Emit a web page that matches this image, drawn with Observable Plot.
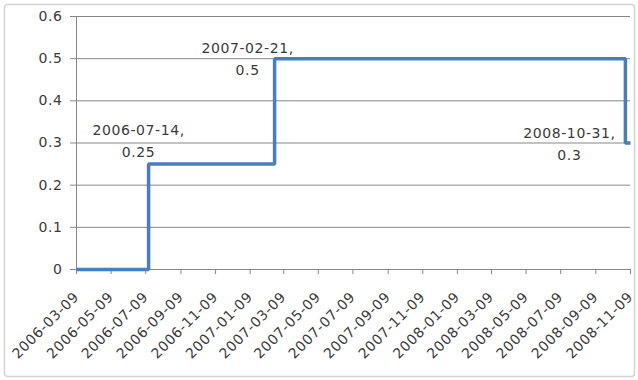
<!DOCTYPE html>
<html>
<head>
<meta charset="utf-8">
<script src="https://cdn.jsdelivr.net/npm/d3@7"></script>
<script src="https://cdn.jsdelivr.net/npm/@observablehq/plot@0.6"></script>
<style>
  html, body { margin: 0; padding: 0; background: #fff; }
  svg text { letter-spacing: 0.6px; }
</style>
</head>
<body>
<div id="chart"></div>
<script>
// Policy rate changes (step series)
const changeDates = ["2006-03-09", "2006-07-14", "2007-02-21", "2008-10-31", "2008-11-09"];
const rates = [0, 0.25, 0.5, 0.3, 0.3];

// Points that carry a data label
const labelDates = ["2006-07-14", "2007-02-21", "2008-10-31"];
const labelRates = [0.25, 0.5, 0.3];

// Axis ticks
const xTickDates = [
  "2006-03-09", "2006-05-09", "2006-07-09", "2006-09-09", "2006-11-09",
  "2007-01-09", "2007-03-09", "2007-05-09", "2007-07-09", "2007-09-09", "2007-11-09",
  "2008-01-09", "2008-03-09", "2008-05-09", "2008-07-09", "2008-09-09", "2008-11-09"
];
const yTicks = [0, 0.1, 0.2, 0.3, 0.4, 0.5, 0.6];

const parse = d3.utcParse("%Y-%m-%d");
const fmt = d3.utcFormat("%Y-%m-%d");

const series = changeDates.map((d, i) => ({date: parse(d), rate: rates[i]}));
const labels = labelDates.map((d, i) => ({date: parse(d), rate: labelRates[i], text: `${d},\n${labelRates[i]}`}));
const xTicks = xTickDates.map(parse);

// label placement relative to each point
const labelOffsets = [[-10, -25], [-27, -2], [-56, -1]];

const axisColor = "#878787";
const textColor = "#3a3a3a";

const chart = Plot.plot({
  width: 638,
  height: 380,
  marginLeft: 76,
  marginRight: 8,
  marginTop: 16,
  marginBottom: 111,
  style: {fontFamily: "DejaVu Sans", fontSize: "14px", color: textColor, background: "#fff"},
  x: {type: "utc", domain: [xTicks[0], xTicks[xTicks.length - 1]]},
  y: {domain: [0, 0.6]},
  marks: [
    Plot.gridY(yTicks, {stroke: axisColor, strokeOpacity: 1, strokeWidth: 1}),
    Plot.ruleX([xTicks[0]], {stroke: axisColor, strokeWidth: 1}),
    Plot.axisY(yTicks, {
      tickSize: 6, tickPadding: 8, stroke: axisColor, fill: textColor,
      tickFormat: d => String(d), label: null
    }),
    Plot.axisX(xTicks, {
      tickSize: 5, tickPadding: 20, tickRotate: -45, stroke: axisColor, fill: textColor,
      tickFormat: fmt, label: null
    }),
    Plot.line(series, {x: "date", y: "rate", curve: "step-after", stroke: "#4a7ebb", strokeWidth: 3.5, strokeLinejoin: "miter", strokeLinecap: "butt"}),
    ...labels.map((d, i) => Plot.text([d], {
      x: "date", y: "rate", text: "text",
      dx: labelOffsets[i][0], dy: labelOffsets[i][1],
      textAnchor: "middle", lineAnchor: "middle", lineHeight: 1.57,
      fill: textColor
    }))
  ]
});

// outer chart border
d3.select(chart).insert("rect", ":first-child")
  .attr("x", 4.5).attr("y", 4.5).attr("width", 630).attr("height", 372)
  .attr("rx", 3).attr("fill", "none").attr("stroke", "#d4d4d4").attr("stroke-width", 1.5);

document.getElementById("chart").appendChild(chart);
</script>
</body>
</html>
